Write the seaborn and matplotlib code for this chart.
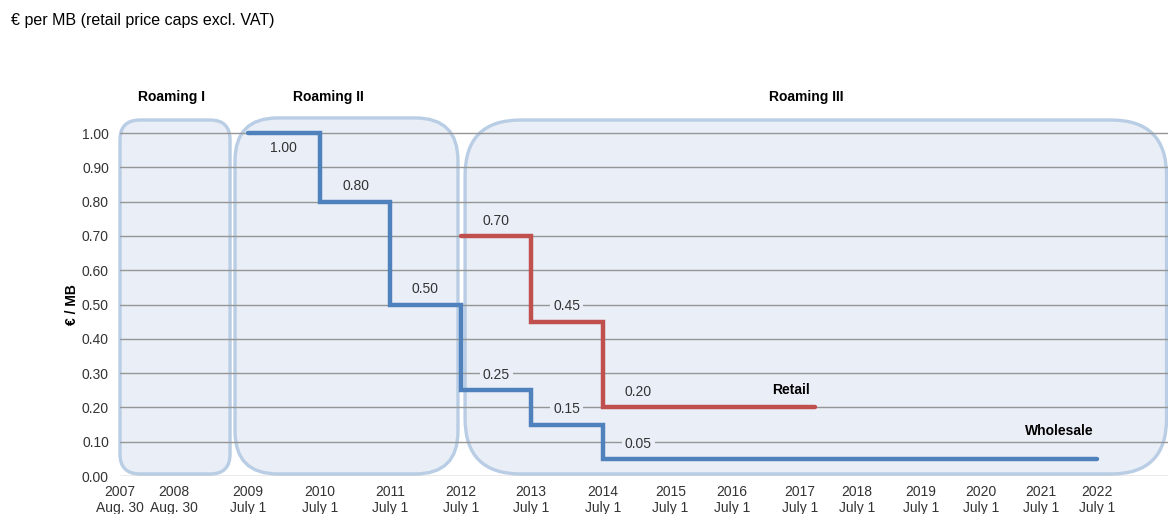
import numpy as np
import matplotlib
matplotlib.use("Agg")
import matplotlib.pyplot as plt
from matplotlib.patches import FancyBboxPatch
import seaborn as sns

# dates on the (uneven) time axis and where they sit
date_labels = ['2007\nAug. 30', '2008\nAug. 30', '2009\nJuly 1', '2010\nJuly 1',
               '2011\nJuly 1', '2012\nJuly 1', '2013\nJuly 1', '2014\nJuly 1',
               '2015\nJuly 1', '2016\nJuly 1', '2017\nJuly 1', '2018\nJuly 1',
               '2019\nJuly 1', '2020\nJuly 1', '2021\nJuly 1', '2022\nJuly 1']
date_pos = [0.0, 0.76, 1.80, 2.82, 3.80, 4.80, 5.79, 6.80,
            7.75, 8.62, 9.58, 10.38, 11.28, 12.13, 12.97, 13.76]

# price caps (EUR per MB)
wholesale_x = [1.80, 2.82, 3.80, 4.80, 5.79, 6.80, 13.76]
wholesale_y = [1.00, 0.80, 0.50, 0.25, 0.15, 0.05, 0.05]
retail_x = [4.80, 5.79, 6.80, 9.79]
retail_y = [0.70, 0.45, 0.20, 0.20]

# regulation periods
phases = ['Roaming I', 'Roaming II', 'Roaming III']
phase_start = [0.0, 1.62, 4.86]
phase_end = [1.55, 4.76, 14.74]
phase_top = [1.038, 1.044, 1.038]
phase_round = [0.28, 0.6, 0.78]
phase_label_x = [0.73, 2.94, 9.66]

blue = '#4F81BD'
red = '#C0504D'
box_fill = '#E9EEF7'
box_edge = '#B9CDE5'
txt = '#333333'

sns.set_theme(style="whitegrid")
plt.rcParams['font.family'] = ['Liberation Sans', 'DejaVu Sans']

fig = plt.figure(figsize=(11.68, 5.14), dpi=100)
ax = fig.add_axes([120/1168, 0.0739, 1 - 120/1168, 0.7712 - 0.0739])
ax.set_xlim(0, 14.76)
ax.set_ylim(0, 1.045)
ax.set_facecolor('white')

# keep the rounded corners round in pixels
p0 = ax.transData.transform((0, 0))
p1 = ax.transData.transform((1, 1))
aspect = (p1[0] - p0[0]) / (p1[1] - p0[1])

for name, x0, x1, top, r, lx in zip(phases, phase_start, phase_end, phase_top, phase_round, phase_label_x):
    box = FancyBboxPatch((x0, 0.006), x1 - x0, top - 0.006,
                         boxstyle=f"round,pad=0,rounding_size={r}",
                         mutation_aspect=aspect, fc=box_fill, ec=box_edge,
                         lw=2.4, zorder=0.3, clip_on=False)
    ax.add_patch(box)
    ax.text(lx, 1.105, name, ha='center', va='center', fontsize=10,
            fontweight='bold', color='black')

sns.lineplot(x=wholesale_x, y=wholesale_y, drawstyle='steps-post', color=blue,
             linewidth=3.2, solid_joinstyle='miter', solid_capstyle='round', ax=ax, zorder=3)
sns.lineplot(x=retail_x, y=retail_y, drawstyle='steps-post', color=red,
             linewidth=3.2, solid_joinstyle='miter', solid_capstyle='round', ax=ax, zorder=3)

for xs, ys in [(wholesale_x, wholesale_y), (retail_x, retail_y)]:
    for i in range(len(xs) - 1):
        v = ys[i]
        dy = -11 if v >= 1.0 else 11
        ax.annotate(f'{v:.2f}', (xs[i] + 0.5, v), xytext=(0, dy),
                    textcoords='offset points', ha='center', va='center',
                    fontsize=10, color=txt, zorder=4,
                    bbox=dict(boxstyle='square,pad=0.2', fc=box_fill, ec='none'))

ax.text(9.45, 0.251, 'Retail', ha='center', va='center', fontsize=10,
        fontweight='bold', color='black')
ax.text(13.23, 0.131, 'Wholesale', ha='center', va='center', fontsize=10,
        fontweight='bold', color='black')

ax.set_yticks(np.arange(0, 1.01, 0.1))
ax.set_yticklabels([f'{t:.2f}' for t in np.arange(0, 1.01, 0.1)])
ax.set_xticks(date_pos)
ax.set_xticklabels(date_labels, linespacing=1.15)
ax.grid(axis='y', color='#969696', linewidth=1)
ax.grid(axis='x', visible=False)
for s in ax.spines.values():
    s.set_visible(False)
ax.tick_params(axis='y', length=2.5, color='#969696', width=1, pad=5.5,
               labelsize=10, labelcolor=txt)
ax.tick_params(axis='x', length=0, pad=6.5, labelsize=10, labelcolor=txt)

ax.set_ylabel('€ / MB', fontsize=10, fontweight='bold', color='black')
ax.yaxis.set_label_coords(-0.039, 0.478)

fig.text(0.009, 0.961, '€ per MB (retail price caps excl. VAT)', ha='left',
         va='center', fontsize=11.5, color='black')

fig.savefig('out.png', dpi=100)
